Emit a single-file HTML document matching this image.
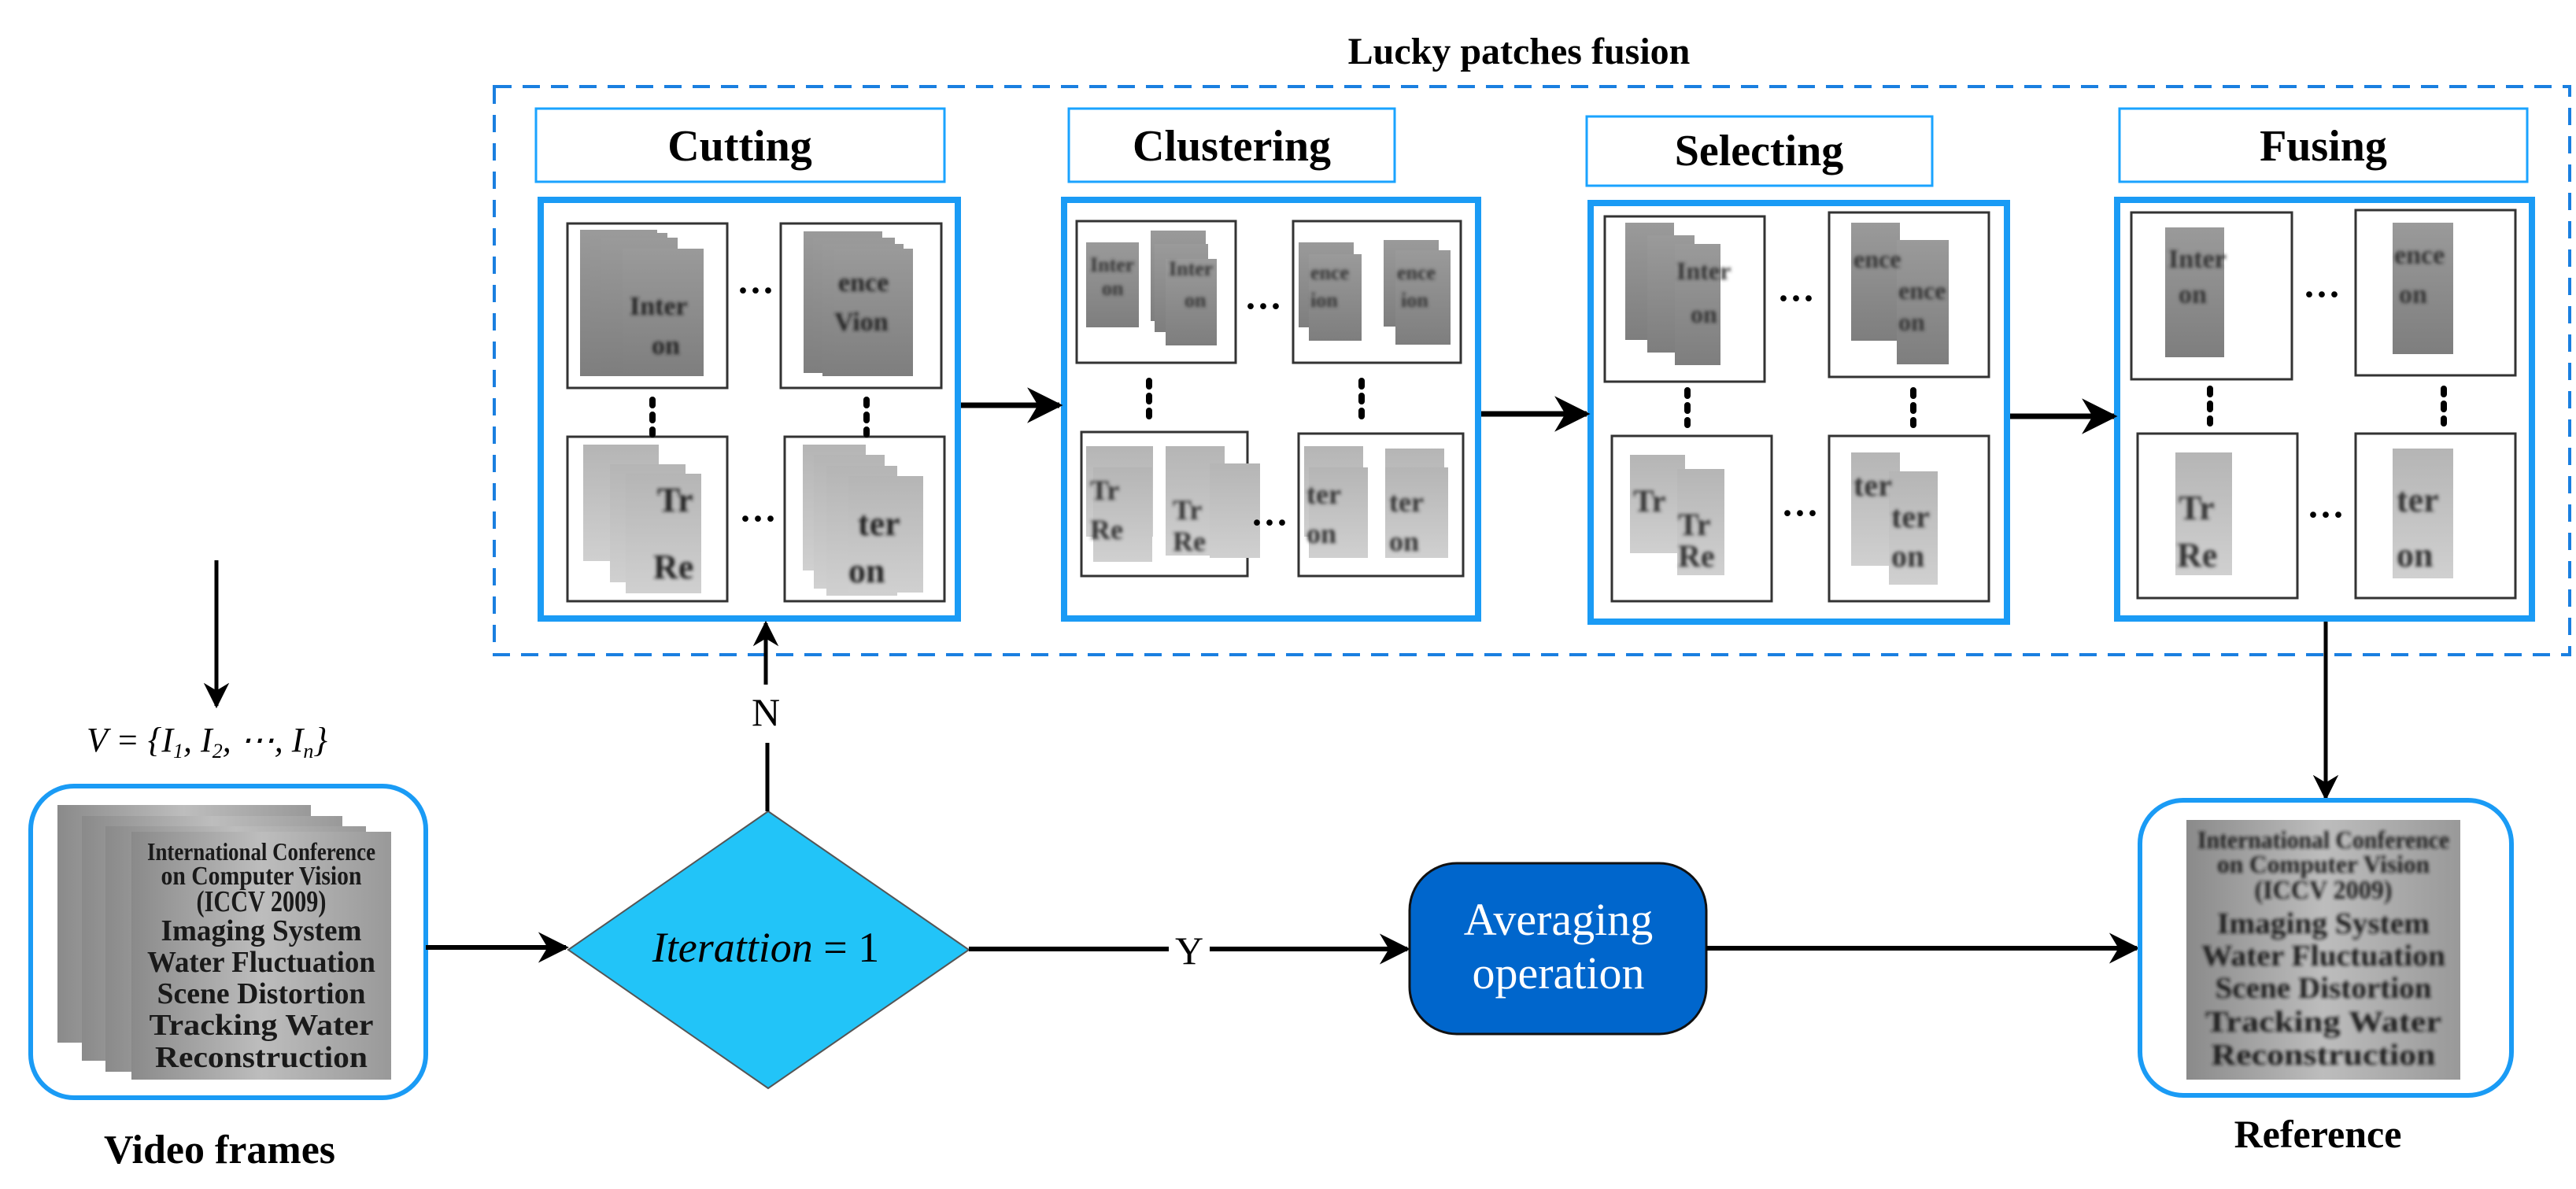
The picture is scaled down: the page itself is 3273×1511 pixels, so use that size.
<!DOCTYPE html>
<html><head><meta charset="utf-8"><style>
html,body{margin:0;padding:0;background:#fff;}
svg{display:block;}
text{font-family:"Liberation Serif",serif;}
</style></head><body>
<svg width="3273" height="1511" viewBox="0 0 3273 1511" xmlns="http://www.w3.org/2000/svg">
<defs>
<marker id="ah" viewBox="0 0 10 10" refX="9" refY="5" markerWidth="6.5" markerHeight="6.5" orient="auto" markerUnits="strokeWidth"><path d="M0,0 L10,5 L0,10 L3,5 z" fill="#000"/></marker>
<linearGradient id="gd" x1="0" y1="0" x2="0" y2="1"><stop offset="0" stop-color="#9a9a9a"/><stop offset="1" stop-color="#7e7e7e"/></linearGradient>
<linearGradient id="gl" x1="0" y1="0" x2="0" y2="1"><stop offset="0" stop-color="#b5b5b5"/><stop offset="1" stop-color="#d0d0d0"/></linearGradient>
<linearGradient id="gv" x1="0" y1="0" x2="1" y2="0"><stop offset="0" stop-color="#8a8a8a"/><stop offset="0.5" stop-color="#bdbdbd"/><stop offset="1" stop-color="#999"/></linearGradient>
<filter id="bl"><feGaussianBlur stdDeviation="2"/></filter>
</defs>

<text x="1930" y="81" font-size="48" font-weight="bold" text-anchor="middle">Lucky patches fusion</text>
<rect x="628" y="110" width="2637" height="722" fill="none" stroke="#1a7fe0" stroke-width="4" stroke-dasharray="22,14"/>

<g fill="#fff" stroke="#1aa3ff" stroke-width="3">
<rect x="681" y="138" width="519" height="93"/>
<rect x="1358" y="138" width="414" height="93"/>
<rect x="2016" y="148" width="439" height="88"/>
<rect x="2693" y="138" width="518" height="93"/>
</g>
<g font-size="56" font-weight="bold" text-anchor="middle">
<text x="940" y="204">Cutting</text>
<text x="1565" y="204">Clustering</text>
<text x="2235" y="210">Selecting</text>
<text x="2952" y="204">Fusing</text>
</g>

<g fill="#fff" stroke="#1a9bf5" stroke-width="8">
<rect x="687" y="254" width="530" height="532"/>
<rect x="1352" y="254" width="526" height="532"/>
<rect x="2021" y="258" width="529" height="532"/>
<rect x="2690" y="254" width="527" height="532"/>
</g>

<g fill="#fff" stroke="#333" stroke-width="3">
<rect x="721" y="284" width="203" height="209"/><rect x="992" y="284" width="204" height="209"/>
<rect x="721" y="555" width="203" height="209"/><rect x="997" y="555" width="203" height="209"/>
<rect x="1368" y="281" width="202" height="180"/><rect x="1643" y="281" width="213" height="180"/>
<rect x="1374" y="549" width="211" height="183"/><rect x="1650" y="551" width="209" height="181"/>
<rect x="2039" y="275" width="203" height="210"/><rect x="2324" y="270" width="203" height="209"/>
<rect x="2048" y="554" width="203" height="210"/><rect x="2324" y="554" width="203" height="210"/>
<rect x="2708" y="270" width="204" height="212"/><rect x="2993" y="267" width="203" height="210"/>
<rect x="2716" y="551" width="203" height="209"/><rect x="2993" y="551" width="203" height="209"/>
</g>

<g fill="url(#gd)">
<rect x="737" y="292" width="98" height="186"/><rect x="750" y="296" width="98" height="182"/><rect x="764" y="302" width="97" height="174"/><rect x="791" y="316" width="103" height="162"/>
<rect x="1021" y="294" width="100" height="180"/><rect x="1033" y="302" width="104" height="172"/><rect x="1045" y="310" width="103" height="168"/><rect x="1060" y="316" width="100" height="162"/>
</g>
<g fill="url(#gl)">
<rect x="741" y="565" width="96" height="148"/><rect x="775" y="590" width="96" height="150"/><rect x="795" y="602" width="96" height="152"/>
<rect x="1020" y="565" width="80" height="160"/><rect x="1034" y="578" width="90" height="170"/><rect x="1050" y="592" width="90" height="165"/><rect x="1078" y="605" width="95" height="148"/>
</g>
<g font-weight="bold" fill="#222" font-size="34" filter="url(#bl)">
<text x="800" y="400">Inter</text><text x="828" y="450">on</text>
<text x="1065" y="370">ence</text><text x="1060" y="420">Vion</text>
<text x="835" y="650" font-size="44">Tr</text><text x="830" y="735" font-size="44">Re</text>
<text x="1090" y="680" font-size="44">ter</text><text x="1078" y="740" font-size="44">on</text>
</g>

<g fill="url(#gd)">
<rect x="1380" y="308" width="67" height="108"/><rect x="1462" y="293" width="70" height="115"/><rect x="1467" y="310" width="68" height="112"/><rect x="1481" y="329" width="65" height="110"/>
<rect x="1650" y="308" width="70" height="108"/><rect x="1663" y="323" width="67" height="110"/><rect x="1758" y="305" width="70" height="110"/><rect x="1773" y="318" width="70" height="120"/>
</g>
<g fill="url(#gl)">
<rect x="1380" y="567" width="85" height="115"/><rect x="1389" y="594" width="75" height="120"/><rect x="1481" y="567" width="75" height="139"/><rect x="1537" y="589" width="64" height="120"/>
<rect x="1657" y="567" width="75" height="115"/><rect x="1663" y="594" width="75" height="115"/><rect x="1760" y="570" width="75" height="115"/><rect x="1760" y="594" width="80" height="115"/>
</g>
<g font-weight="bold" fill="#333" font-size="26" filter="url(#bl)">
<text x="1385" y="345">Inter</text><text x="1400" y="375">on</text><text x="1485" y="350">Inter</text><text x="1505" y="390">on</text>
<text x="1665" y="355">ence</text><text x="1665" y="390">ion</text><text x="1775" y="355">ence</text><text x="1780" y="390">ion</text>
<text x="1385" y="635" font-size="36">Tr</text><text x="1385" y="685" font-size="36">Re</text><text x="1490" y="660" font-size="36">Tr</text><text x="1490" y="700" font-size="36">Re</text>
<text x="1660" y="640" font-size="36">ter</text><text x="1660" y="690" font-size="36">on</text><text x="1765" y="650" font-size="36">ter</text><text x="1765" y="700" font-size="36">on</text>
</g>

<g fill="url(#gd)">
<rect x="2065" y="283" width="62" height="149"/><rect x="2093" y="299" width="60" height="149"/><rect x="2128" y="310" width="58" height="154"/>
<rect x="2352" y="283" width="62" height="150"/><rect x="2410" y="305" width="66" height="158"/>
</g>
<g fill="url(#gl)">
<rect x="2071" y="578" width="70" height="125"/><rect x="2131" y="596" width="60" height="135"/>
<rect x="2352" y="575" width="62" height="144"/><rect x="2400" y="599" width="62" height="144"/>
</g>
<g font-weight="bold" fill="#333" font-size="32" filter="url(#bl)">
<text x="2130" y="355">Inter</text><text x="2148" y="410">on</text>
<text x="2355" y="340">ence</text><text x="2412" y="380">ence</text><text x="2412" y="420">on</text>
<text x="2075" y="650" font-size="40">Tr</text><text x="2132" y="680" font-size="40">Tr</text><text x="2132" y="720" font-size="40">Re</text>
<text x="2355" y="630" font-size="40">ter</text><text x="2403" y="670" font-size="40">ter</text><text x="2403" y="720" font-size="40">on</text>
</g>

<g fill="url(#gd)">
<rect x="2751" y="289" width="75" height="165"/><rect x="3040" y="283" width="77" height="167"/>
</g>
<g fill="url(#gl)">
<rect x="2764" y="575" width="72" height="156"/><rect x="3040" y="570" width="77" height="165"/>
</g>
<g font-weight="bold" fill="#333" filter="url(#bl)" font-size="34">
<text x="2755" y="340">Inter</text><text x="2768" y="385">on</text>
<text x="3042" y="335">ence</text><text x="3048" y="385">on</text>
<text x="2768" y="660" font-size="44">Tr</text><text x="2766" y="720" font-size="44">Re</text>
<text x="3045" y="650" font-size="44">ter</text><text x="3045" y="720" font-size="44">on</text>
</g>

<g font-size="48" font-weight="bold" text-anchor="middle">
<text x="960" y="385">···</text><text x="963" y="675">···</text>
<text x="1605" y="405">···</text><text x="1613" y="680">···</text>
<text x="2282" y="395">···</text><text x="2287" y="668">···</text>
<text x="2950" y="390">···</text><text x="2955" y="670">···</text>
</g>
<g stroke="#000" stroke-width="8" stroke-dasharray="7,12" stroke-linecap="round">
<line x1="829" y1="508" x2="829" y2="552"/><line x1="1101" y1="508" x2="1101" y2="552"/>
<line x1="1460" y1="484" x2="1460" y2="532"/><line x1="1730" y1="484" x2="1730" y2="532"/>
<line x1="2144" y1="496" x2="2144" y2="540"/><line x1="2431" y1="496" x2="2431" y2="540"/>
<line x1="2808" y1="494" x2="2808" y2="538"/><line x1="3105" y1="494" x2="3105" y2="538"/>
</g>

<g stroke="#000" stroke-width="7" fill="none" marker-end="url(#ah)">
<line x1="1221" y1="515" x2="1346" y2="515"/>
<line x1="1882" y1="526" x2="2016" y2="526"/>
<line x1="2554" y1="529" x2="2686" y2="529"/>
</g>

<line x1="275" y1="712" x2="275" y2="897" stroke="#000" stroke-width="5" marker-end="url(#ah)"/>
<text x="110" y="955" font-size="44" font-style="italic">V = {I<tspan font-size="26" dy="8">1</tspan><tspan dy="-8">, I</tspan><tspan font-size="26" dy="8">2</tspan><tspan dy="-8">, ⋯, I</tspan><tspan font-size="26" dy="8">n</tspan><tspan dy="-8">}</tspan></text>

<rect x="39" y="999" width="502" height="396" rx="55" fill="#fff" stroke="#1a9bf5" stroke-width="6"/>
<g fill="url(#gv)">
<rect x="73" y="1023" width="322" height="302"/><rect x="104" y="1037" width="331" height="311"/><rect x="134" y="1050" width="331" height="312"/><rect x="167" y="1057" width="330" height="315"/>
</g>
<g font-weight="bold" fill="#1a1a1a" text-anchor="middle" font-size="38">
<text x="332" y="1093" textLength="290" lengthAdjust="spacingAndGlyphs" font-size="32">International Conference</text>
<text x="332" y="1124" textLength="255" lengthAdjust="spacingAndGlyphs" font-size="34">on Computer Vision</text>
<text x="332" y="1158" textLength="165" lengthAdjust="spacingAndGlyphs">(ICCV 2009)</text>
<text x="332" y="1195" textLength="255" lengthAdjust="spacingAndGlyphs">Imaging System</text>
<text x="332" y="1235" textLength="290" lengthAdjust="spacingAndGlyphs">Water Fluctuation</text>
<text x="332" y="1275" textLength="265" lengthAdjust="spacingAndGlyphs">Scene Distortion</text>
<text x="332" y="1315" textLength="285" lengthAdjust="spacingAndGlyphs">Tracking Water</text>
<text x="332" y="1356" textLength="270" lengthAdjust="spacingAndGlyphs">Reconstruction</text>
</g>
<text x="279" y="1478" font-size="52" font-weight="bold" text-anchor="middle">Video frames</text>

<line x1="541" y1="1204" x2="719" y2="1204" stroke="#000" stroke-width="6" marker-end="url(#ah)"/>

<polygon points="976,1031 1231,1207 976,1383 722,1207" fill="#22c4f8" stroke="#555" stroke-width="2"/>
<text x="973" y="1222" font-size="54" font-style="italic" text-anchor="middle">Iterattion <tspan font-style="normal">= 1</tspan></text>

<line x1="975" y1="1031" x2="975" y2="944" stroke="#000" stroke-width="5"/>
<line x1="973" y1="870" x2="973" y2="792" stroke="#000" stroke-width="5" marker-end="url(#ah)"/>
<text x="973" y="922" font-size="50" text-anchor="middle">N</text>

<line x1="1231" y1="1206" x2="1485" y2="1206" stroke="#000" stroke-width="6"/>
<text x="1511" y="1225" font-size="50" text-anchor="middle">Y</text>
<line x1="1537" y1="1206" x2="1788" y2="1206" stroke="#000" stroke-width="6" marker-end="url(#ah)"/>

<rect x="1791" y="1097" width="377" height="217" rx="60" fill="#0066cc" stroke="#111" stroke-width="3"/>
<text x="1980" y="1188" font-size="58" fill="#fff" text-anchor="middle">Averaging</text>
<text x="1980" y="1256" font-size="58" fill="#fff" text-anchor="middle">operation</text>

<line x1="2168" y1="1205" x2="2715" y2="1205" stroke="#000" stroke-width="6" marker-end="url(#ah)"/>

<line x1="2955" y1="790" x2="2955" y2="1014" stroke="#000" stroke-width="5" marker-end="url(#ah)"/>

<rect x="2719" y="1017" width="472" height="375" rx="55" fill="#fff" stroke="#1a9bf5" stroke-width="6"/>
<rect x="2778" y="1042" width="348" height="330" fill="url(#gv)"/>
<g font-weight="bold" fill="#1a1a1a" text-anchor="middle" filter="url(#bl)" font-size="38">
<text x="2952" y="1078" textLength="320" lengthAdjust="spacingAndGlyphs" font-size="32">International Conference</text>
<text x="2952" y="1109" textLength="270" lengthAdjust="spacingAndGlyphs" font-size="32">on Computer Vision</text>
<text x="2952" y="1142" textLength="175" lengthAdjust="spacingAndGlyphs" font-size="34">(ICCV 2009)</text>
<text x="2952" y="1186" textLength="270" lengthAdjust="spacingAndGlyphs">Imaging System</text>
<text x="2952" y="1227" textLength="310" lengthAdjust="spacingAndGlyphs">Water Fluctuation</text>
<text x="2952" y="1268" textLength="275" lengthAdjust="spacingAndGlyphs">Scene Distortion</text>
<text x="2952" y="1311" textLength="300" lengthAdjust="spacingAndGlyphs">Tracking Water</text>
<text x="2952" y="1353" textLength="285" lengthAdjust="spacingAndGlyphs">Reconstruction</text>
</g>
<text x="2945" y="1458" font-size="50" font-weight="bold" text-anchor="middle">Reference</text>
</svg>
</body></html>
